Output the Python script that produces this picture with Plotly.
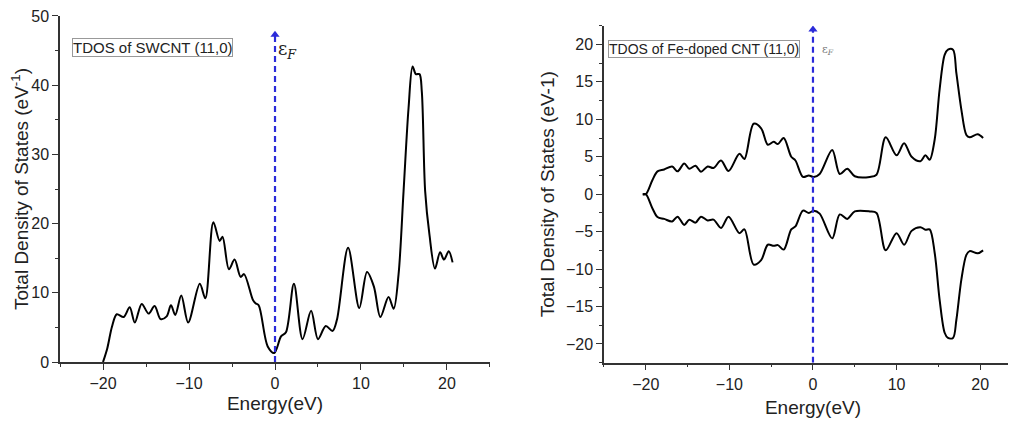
import plotly.graph_objects as go

# ---------------- data ----------------
# Left: TDOS of SWCNT (11,0)
e_sw = [-20.0, -19.5, -18.96, -18.4, -17.6, -16.9, -16.3, -15.5, -14.7, -14.0, -13.3, -12.6, -12.1,
        -11.6, -10.9, -10.1, -8.75, -8.1, -7.17, -6.44, -6.1, -5.36, -4.7, -4.0, -3.6, -2.58,
        -2.27, -1.9, -0.85, -0.08, 0.7, 1.27, 2.2, 3.2, 4.2, 5.0, 5.9, 6.7, 7.2, 8.5, 9.8, 10.7,
        11.5, 12.25, 13.2, 13.8, 14.37, 14.95, 15.53, 16.0, 16.38, 16.8, 17.07, 17.46, 17.95,
        18.6, 19.2, 19.65, 20.2, 20.65]
dos_sw = [0.0, 2.0, 5.1, 6.9, 6.5, 7.9, 5.7, 8.4, 7.0, 8.1, 6.2, 6.6, 8.2,
          6.8, 9.6, 5.7, 11.3, 9.2, 20.2, 17.5, 18.1, 13.4, 14.8, 12.3, 12.7, 9.0,
          8.5, 8.2, 2.25, 1.3, 3.7, 4.3, 11.3, 3.3, 7.4, 3.3, 5.2, 4.5, 6.1, 16.5, 7.8, 13.0,
          10.9, 6.5, 9.4, 7.7, 12.7, 24.7, 36.7, 42.7, 41.6, 41.6, 39.1, 24.7, 18.5,
          13.5, 15.85, 14.8, 16.0, 14.4]

# Right: TDOS of Fe-doped CNT (11,0), spin up / spin down
e_up = [-20.36, -20.0, -19.2, -18.6, -17.8, -16.85, -16.2, -15.4, -14.8, -14.05, -13.4, -12.6, -11.9,
        -11.0, -10.1, -8.8, -8.2, -7.1, -6.2, -5.4, -4.7, -4.2, -3.5, -2.6, -2.1, -1.2, -0.5,
        0.1, 0.8, 2.3, 3.2, 4.1, 5.0, 6.8, 7.6, 8.7, 10.0, 10.9, 11.8, 12.85, 13.45, 13.96,
        14.56, 15.15, 15.75, 16.15, 16.75, 17.15, 17.75, 18.35, 18.74, 19.7, 20.35]
dos_up = [0.0, 0.0, 1.9, 3.05, 3.3, 3.7, 3.05, 4.1, 3.4, 3.8, 3.0, 3.7, 3.5,
          4.5, 3.1, 5.4, 4.7, 9.4, 8.8, 6.6, 7.0, 6.7, 7.5, 5.0, 4.5, 2.3, 2.5,
          2.3, 2.7, 5.9, 2.7, 3.4, 2.4, 2.3, 2.6, 7.6, 5.2, 6.8, 5.0, 4.4, 5.2, 4.6,
          7.3, 14.0, 18.6, 19.3, 19.3, 16.2, 11.3, 7.9, 7.6, 8.0, 7.5]
e_dn = e_up
dos_dn = [0.0, 0.0, -1.9, -3.05, -3.3, -3.65, -3.0, -4.1, -3.4, -3.8, -3.0, -3.5, -3.4,
          -4.5, -3.0, -5.2, -4.7, -9.4, -8.8, -6.75, -6.9, -6.8, -7.4, -4.7, -4.3, -2.2, -2.5,
          -2.2, -2.6, -5.9, -2.7, -3.3, -2.3, -2.3, -2.5, -7.5, -5.2, -6.75, -4.9, -4.4, -4.75, -4.7,
          -7.85, -14.1, -18.5, -19.2, -19.2, -16.8, -11.4, -8.1, -7.6, -7.9, -7.5]

E_FERMI = 0.0
fermi_left = [0.0, 47.3]
fermi_right = [-22.5, 22.0]

x_ticks = [-20, -10, 0, 10, 20]
y_ticks_left = [0, 10, 20, 30, 40, 50]
y_ticks_right = [-20, -15, -10, -5, 0, 5, 10, 15, 20]

# ---------------- figure ----------------
FONT = "Liberation Sans, Arial, sans-serif"
BLUE = "#2b2bd9"
AX = "#333333"

fig = go.Figure()

line_style = dict(color="black", width=2, shape="spline", smoothing=0.9)
fig.add_trace(go.Scatter(x=e_sw, y=dos_sw, mode="lines", line=line_style, xaxis="x", yaxis="y"))
fig.add_trace(go.Scatter(x=e_up, y=dos_up, mode="lines", line=line_style, xaxis="x2", yaxis="y2"))
fig.add_trace(go.Scatter(x=e_dn, y=dos_dn, mode="lines", line=line_style, xaxis="x2", yaxis="y2"))

# Fermi level dashed lines with arrowheads
fig.add_trace(go.Scatter(x=[E_FERMI, E_FERMI], y=fermi_left, mode="lines",
                         line=dict(color=BLUE, width=2.2, dash="6px,4px"), xaxis="x", yaxis="y"))
fig.add_trace(go.Scatter(x=[E_FERMI], y=[fermi_left[1]], mode="markers",
                         marker=dict(symbol="triangle-up", size=8, color=BLUE), xaxis="x", yaxis="y"))
fig.add_trace(go.Scatter(x=[E_FERMI, E_FERMI], y=fermi_right, mode="lines",
                         line=dict(color=BLUE, width=2.2, dash="6px,4px"), xaxis="x2", yaxis="y2"))
fig.add_trace(go.Scatter(x=[E_FERMI], y=[fermi_right[1]], mode="markers",
                         marker=dict(symbol="triangle-up", size=8, color=BLUE), xaxis="x2", yaxis="y2"))

axis_common = dict(showline=True, linecolor=AX, linewidth=1.5, ticks="outside", ticklen=6,
                   tickwidth=1.3, tickcolor=AX, showgrid=False, zeroline=False, mirror=False,
                   automargin=False, ticklabeloverflow="allow",
                   tickfont=dict(family=FONT, size=16, color="#222"),
                   title_font=dict(family=FONT, size=19, color="#222"))

fig.update_layout(
    width=1016, height=421,
    margin=dict(l=0, r=0, t=0, b=0, autoexpand=False),
    paper_bgcolor="white", plot_bgcolor="white",
    showlegend=False,
    xaxis=dict(domain=[0.0512, 0.4744], range=[-25, 25], tickvals=x_ticks,
               minor=dict(dtick=5, ticks="outside", ticklen=3, tickcolor=AX),
               title=dict(text="Energy(eV)", standoff=6), anchor="y", **axis_common),
    yaxis=dict(domain=[0.1591, 0.981], range=[0, 50], tickvals=y_ticks_left,
               minor=dict(dtick=5, ticks="outside", ticklen=3, tickcolor=AX),
               title=dict(text="Total Density of States (eV<sup>-1</sup>)", standoff=6),
               anchor="x", **axis_common),
    xaxis2=dict(domain=[0.5866, 0.998], range=[-25, 25], tickvals=x_ticks,
                minor=dict(dtick=5, ticks="outside", ticklen=3, tickcolor=AX),
                title=dict(text="Energy(eV)", standoff=9), anchor="y2", **axis_common),
    yaxis2=dict(domain=[0.1575, 0.958], range=[-22.5, 22.5], tickvals=y_ticks_right,
                minor=dict(dtick=2.5, ticks="outside", ticklen=3, tickcolor=AX),
                title=dict(text="Total Density of States (eV-1)", standoff=6),
                anchor="x2", **axis_common),
)

fig.add_annotation(text="TDOS of SWCNT (11,0)", xref="x domain", yref="y domain",
                   x=0.027, y=0.91, xanchor="left", yanchor="middle", showarrow=False,
                   font=dict(family=FONT, size=15, color="#222"),
                   bordercolor="#999", borderwidth=1, borderpad=0, bgcolor="white")
fig.add_annotation(text="TDOS of Fe-doped CNT (11,0)", xref="x2 domain", yref="y2 domain",
                   x=0.01, y=0.932, xanchor="left", yanchor="middle", showarrow=False,
                   font=dict(family=FONT, size=14, color="#222"),
                   bordercolor="#999", borderwidth=1, borderpad=0, bgcolor="white")

fig.add_annotation(text="ε<sub><i>F</i></sub>", xref="x", yref="y", x=E_FERMI, y=fermi_left[1],
                   xanchor="left", yanchor="top", xshift=1, yshift=-1, showarrow=False,
                   font=dict(family="DejaVu Serif, serif", size=18, color="#222"))
fig.add_annotation(text="ε<sub><i>F</i></sub>", xref="x2", yref="y2", x=E_FERMI, y=fermi_right[1],
                   xanchor="left", yanchor="top", xshift=7, yshift=-12, showarrow=False,
                   font=dict(family="DejaVu Serif, serif", size=11, color="#777"))

fig.write_html("out.html")
